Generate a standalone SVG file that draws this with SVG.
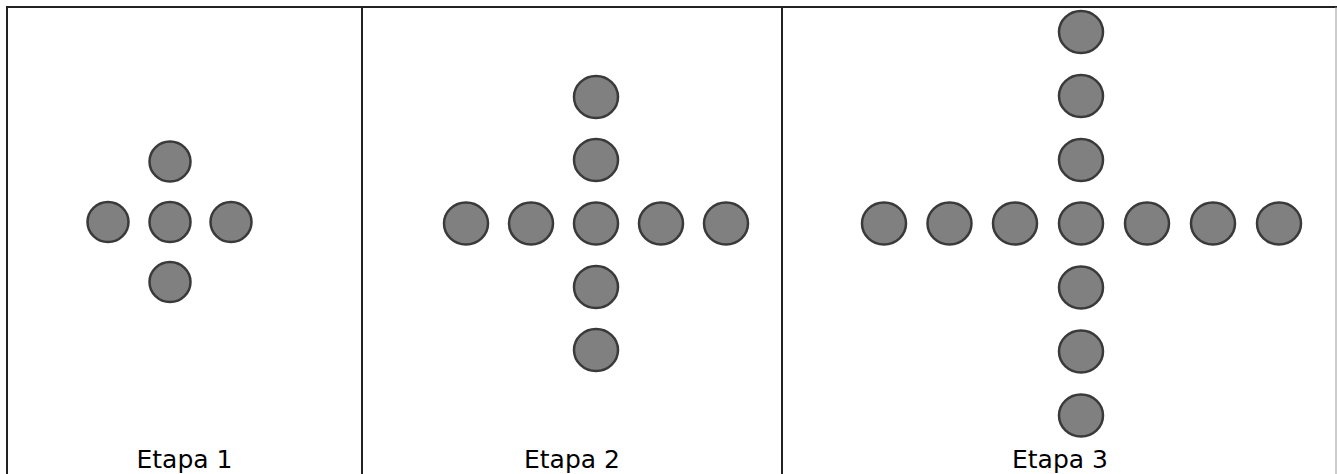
<svg xmlns="http://www.w3.org/2000/svg" width="1337" height="474" viewBox="0 0 1337 474">
<style>
.d{fill:#808080;stroke:#3a3a3a;stroke-width:2.5}
.lbl{font-family:"DejaVu Sans",Verdana,sans-serif;font-size:25px;fill:#000;text-anchor:middle}
.frame{stroke:#222;stroke-width:2;fill:none}
</style>
<rect width="1337" height="474" fill="#fff"/>
<g id="frame">
<line class="frame" x1="7" y1="7" x2="1337" y2="7" stroke="#444"/>
<line class="frame" x1="7" y1="6" x2="7" y2="474" stroke="#333"/>
<line class="frame" x1="362" y1="7" x2="362" y2="474"/>
<line class="frame" x1="782" y1="7" x2="782" y2="474"/>
<line x1="1336" y1="7" x2="1336" y2="474" stroke="#999" stroke-width="1"/>
</g>
<g id="etapa1">
<ellipse class="d" cx="170" cy="161.5" rx="20.5" ry="20"/>
<ellipse class="d" cx="108" cy="222" rx="20.5" ry="20"/>
<ellipse class="d" cx="170" cy="222" rx="20.5" ry="20"/>
<ellipse class="d" cx="231" cy="222" rx="20.5" ry="20"/>
<ellipse class="d" cx="170" cy="282" rx="20.5" ry="20"/>
<text class="lbl" x="184.5" y="468">Etapa 1</text>
</g>
<g id="etapa2">
<ellipse class="d" cx="596" cy="97" rx="22" ry="21"/>
<ellipse class="d" cx="596" cy="160" rx="22" ry="21"/>
<ellipse class="d" cx="466" cy="223.5" rx="22" ry="21"/>
<ellipse class="d" cx="531" cy="223.5" rx="22" ry="21"/>
<ellipse class="d" cx="596" cy="223.5" rx="22" ry="21"/>
<ellipse class="d" cx="661" cy="223.5" rx="22" ry="21"/>
<ellipse class="d" cx="726" cy="223.5" rx="22" ry="21"/>
<ellipse class="d" cx="596" cy="287" rx="22" ry="21"/>
<ellipse class="d" cx="596" cy="350" rx="22" ry="21"/>
<text class="lbl" x="572" y="468">Etapa 2</text>
</g>
<g id="etapa3">
<ellipse class="d" cx="1081" cy="32" rx="22" ry="21"/>
<ellipse class="d" cx="1081" cy="96" rx="22" ry="21"/>
<ellipse class="d" cx="1081" cy="160" rx="22" ry="21"/>
<ellipse class="d" cx="884" cy="223.5" rx="22" ry="21"/>
<ellipse class="d" cx="949.5" cy="223.5" rx="22" ry="21"/>
<ellipse class="d" cx="1015" cy="223.5" rx="22" ry="21"/>
<ellipse class="d" cx="1081" cy="223.5" rx="22" ry="21"/>
<ellipse class="d" cx="1147" cy="223.5" rx="22" ry="21"/>
<ellipse class="d" cx="1213" cy="223.5" rx="22" ry="21"/>
<ellipse class="d" cx="1279" cy="223.5" rx="22" ry="21"/>
<ellipse class="d" cx="1081" cy="287.5" rx="22" ry="21"/>
<ellipse class="d" cx="1081" cy="351.5" rx="22" ry="21"/>
<ellipse class="d" cx="1081" cy="415.5" rx="22" ry="21"/>
<text class="lbl" x="1060" y="468">Etapa 3</text>
</g>
<g id="connectors"/>
</svg>
